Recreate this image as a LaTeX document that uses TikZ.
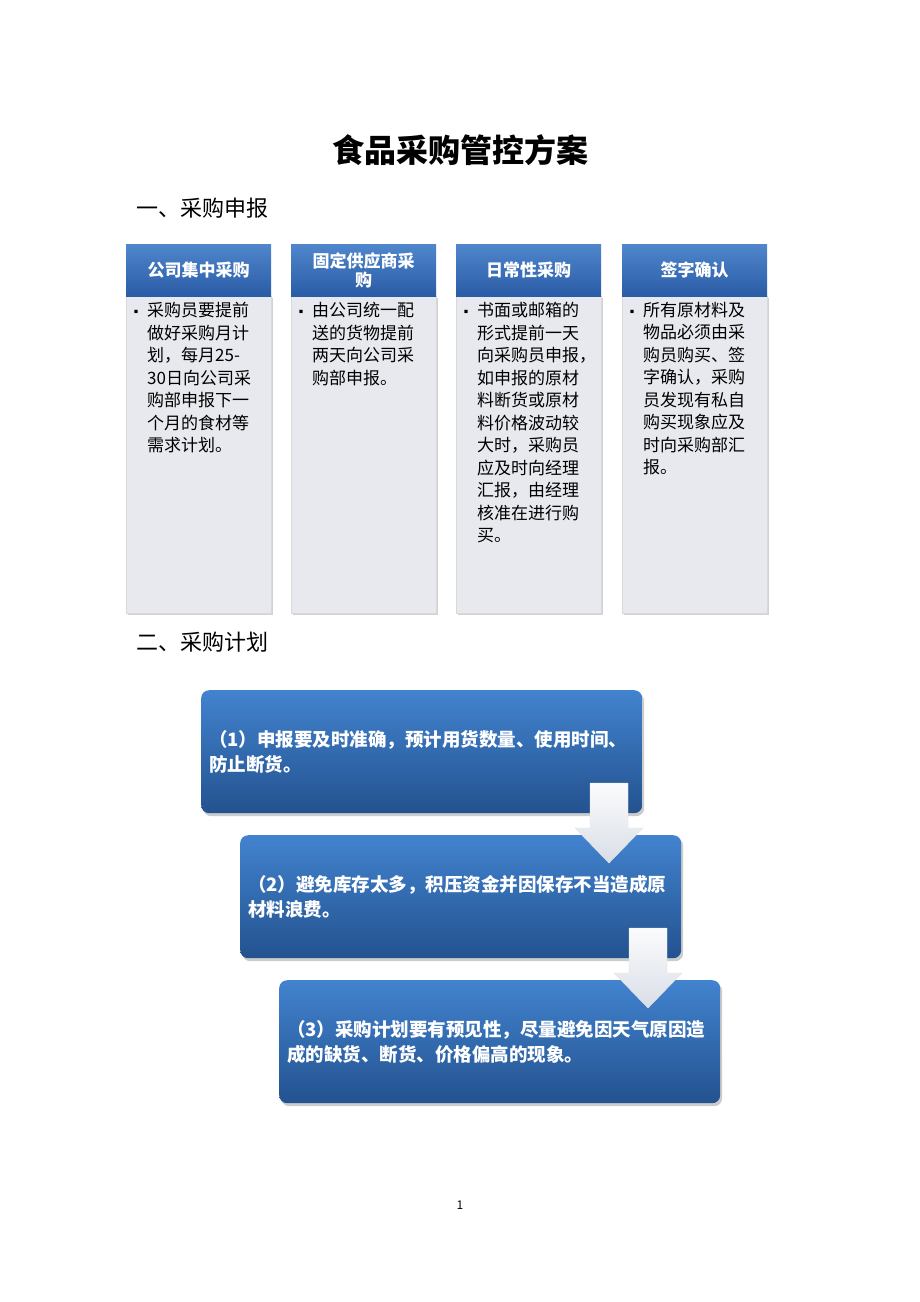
\documentclass[tikz,border=0pt]{standalone}
\usepackage{fontspec}
\setmainfont{Noto Sans CJK SC}
\usepackage{tikz}
\usetikzlibrary{positioning,calc,shadows}

\definecolor{hdtop}{HTML}{4F86CC}
\definecolor{hdbot}{HTML}{2A5CA6}
\definecolor{bodygray}{HTML}{E8E9EE}
\definecolor{steptop}{HTML}{4283CF}
\definecolor{stepbot}{HTML}{23528F}
\definecolor{arrowgray}{HTML}{D9DEE7}

\tikzset{
  hdbox/.style={minimum width=145pt, minimum height=52pt, top color=hdtop, bottom color=hdbot,
    text=white, font=\fontsize{17}{19}\selectfont\bfseries, align=center, inner sep=2pt},
  bodybox/.style={minimum width=145pt, minimum height=317pt, fill=bodygray, draw=black!15,
    drop shadow={opacity=0.35, shadow xshift=2pt, shadow yshift=-2pt}},
  bodytext/.style={anchor=north west, align=left, font=\fontsize{17}{22.5}\selectfont, inner sep=0pt},
  stepbox/.style={minimum width=441pt, minimum height=123pt, rounded corners=8pt,
    top color=steptop, bottom color=stepbot, drop shadow={opacity=0.4, shadow xshift=2pt, shadow yshift=-3pt}},
  steptext/.style={anchor=west, align=left, text=white, font=\fontsize{18.5}{25}\selectfont\bfseries, inner sep=0pt},
  downarrow/.style={top color=white!90!arrowgray, bottom color=arrowgray, draw=white!80!gray}
}

\begin{document}
\begin{tikzpicture}[x=1pt, y=-1pt]
  \useasboundingbox (0,0) rectangle (920,1302);
  \fill[white] (0,0) rectangle (920,1302);

  \node[font=\fontsize{32}{34}\selectfont\bfseries] (title) at (460,150) {食品采购管控方案};
  \node[anchor=west, font=\fontsize{22}{24}\selectfont] (sec1) at (133,208) {一、采购申报};
  \node[anchor=west, font=\fontsize{22}{24}\selectfont] (sec2) at (133,642) {二、采购计划};

  % four columns
  \foreach \x/\n/\h in {126/a/公司集中采购, 291/b/{固定供应商采\\购}, 456/c/日常性采购, 622/d/签字确认}{
    \node[bodybox, anchor=north west] (body\n) at (\x,296) {};
    \node[hdbox, anchor=north west] (head\n) at (\x,244) {\h};
    \node[font=\fontsize{12}{12}\selectfont] at (\x+10,313) {▪};
  }
  \node[bodytext] (texta) at (147,302) {采购员要提前\\做好采购月计\\划，每月25-\\30日向公司采\\购部申报下一\\个月的食材等\\需求计划。};
  \node[bodytext] (textb) at (312,302) {由公司统一配\\送的货物提前\\两天向公司采\\购部申报。};
  \node[bodytext] (textc) at (477,302) {书面或邮箱的\\形式提前一天\\向采购员申报，\\如申报的原材\\料断货或原材\\料价格波动较\\大时，采购员\\应及时向经理\\汇报，由经理\\核准在进行购\\买。};
  \node[bodytext] (textd) at (643,302) {所有原材料及\\物品必须由采\\购员购买、签\\字确认，采购\\员发现有私自\\购买现象应及\\时向采购部汇\\报。};

  % steps
  \node[stepbox, anchor=north west] (step1) at (201,690) {};
  \node[stepbox, anchor=north west] (step2) at (240,835) {};
  \node[stepbox, anchor=north west] (step3) at (279,980) {};
  \node[steptext] (st1) at (209,752) {（1）申报要及时准确，预计用货数量、使用时间、\\防止断货。};
  \node[steptext] (st2) at (248,897) {（2）避免库存太多，积压资金并因保存不当造成原\\材料浪费。};
  \node[steptext] (st3) at (287,1042) {（3）采购计划要有预见性，尽量避免因天气原因造\\成的缺货、断货、价格偏高的现象。};

  % arrows between steps
  \foreach \ax/\ay in {609/783, 648/928}{
    \draw[downarrow] (\ax-19,\ay) -- (\ax+19,\ay) -- (\ax+19,\ay+45) -- (\ax+34,\ay+45)
      -- (\ax,\ay+80) -- (\ax-34,\ay+45) -- (\ax-19,\ay+45) -- cycle;
  }

  \node[font=\fontsize{12}{12}\selectfont] (page) at (460,1205) {1};
\end{tikzpicture}
\end{document}
